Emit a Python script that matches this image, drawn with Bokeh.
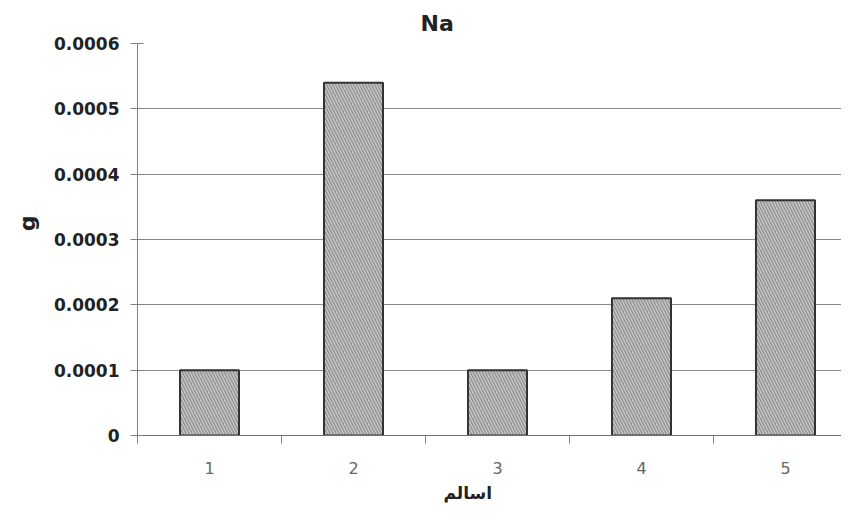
from bokeh.plotting import figure
from bokeh.models import Range1d, FixedTicker, Title
from bokeh.embed import file_html
from bokeh.resources import INLINE

# ---- data ----
samples = [1, 2, 3, 4, 5]
sample_labels = ["1", "2", "3", "4", "5"]
na_g = [0.0001, 0.00054, 0.0001, 0.00021, 0.00036]
y_ticks = [0, 0.0001, 0.0002, 0.0003, 0.0004, 0.0005, 0.0006]
y_tick_labels = ["0", "0.0001", "0.0002", "0.0003", "0.0004", "0.0005", "0.0006"]
sample_bounds = [0.5, 1.5, 2.5, 3.5, 4.5, 5.5]
title_text = "Na"
x_label = "اسالم"
y_label = "g"

FONT = "DejaVu Sans"

p = figure(width=841, height=507, output_backend="svg", toolbar_location=None,
           x_range=Range1d(0.5, 5.389), y_range=Range1d(0, 0.0006),
           min_border_left=137, min_border_right=0, min_border_top=43,
           min_border_bottom=72)

p.vbar(x=samples, top=na_g, width=0.41, fill_color="#c4c4c4",
       line_color="#333333", line_width=2,
       hatch_pattern="\\", hatch_color="#8e8e8e", hatch_scale=6, hatch_weight=1.2)

p.outline_line_color = None
p.background_fill_color = "white"
p.border_fill_color = "white"

# grid
p.xgrid.grid_line_color = None
p.ygrid.grid_line_color = "#8a8a8a"
p.ygrid.grid_line_width = 1
p.ygrid.ticker = FixedTicker(ticks=y_ticks)

# y axis
p.yaxis.ticker = FixedTicker(ticks=y_ticks)
p.yaxis.major_label_overrides = {t: l for t, l in zip(y_ticks, y_tick_labels)}
p.yaxis.axis_line_color = "#808080"
p.yaxis.major_tick_line_color = "#808080"
p.yaxis.major_tick_in = 6
p.yaxis.major_tick_out = 7
p.yaxis.minor_tick_line_color = None
p.yaxis.major_label_standoff = 11
p.yaxis.major_label_text_font = FONT
p.yaxis.major_label_text_font_style = "bold"
p.yaxis.major_label_text_font_size = "17px"
p.yaxis.major_label_text_color = "#222222"

# x axis
p.xaxis.ticker = FixedTicker(ticks=samples, minor_ticks=sample_bounds)
p.xaxis.major_label_overrides = {s: l for s, l in zip(samples, sample_labels)}
p.xaxis.axis_line_color = "#707070"
p.xaxis.major_tick_line_color = None
p.xaxis.major_tick_in = 0
p.xaxis.major_tick_out = 0
p.xaxis.minor_tick_line_color = "#808080"
p.xaxis.minor_tick_in = 0
p.xaxis.minor_tick_out = 8
p.xaxis.major_label_standoff = 18
p.xaxis.major_label_text_font = FONT
p.xaxis.major_label_text_font_size = "16px"
p.xaxis.major_label_text_color = "#666666"

# title
p.title.text = title_text
p.title.align = "left"
p.title.offset = 283
p.title.text_font = FONT
p.title.text_font_style = "bold"
p.title.text_font_size = "22px"
p.title.text_color = "#222222"
p.title.standoff = 16

# axis labels as side titles for exact placement
p.add_layout(Title(text=y_label, align="right", offset=172, vertical_align="bottom",
                   text_font=FONT, text_font_style="bold", text_font_size="22px",
                   text_color="#222222", standoff=22), "left")
p.add_layout(Title(text=x_label, align="left", offset=306, vertical_align="bottom",
                   text_font=FONT, text_font_style="bold", text_font_size="17px",
                   text_color="#222222", standoff=8), "below")

open("out.html", "w").write(file_html(p, INLINE))
